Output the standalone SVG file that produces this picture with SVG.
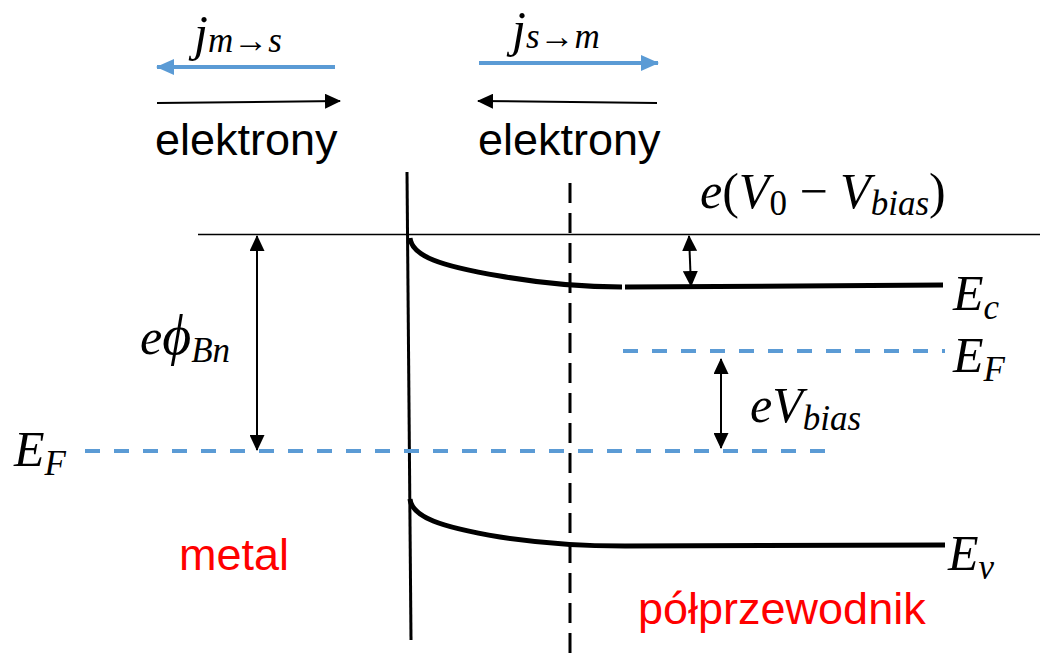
<svg xmlns="http://www.w3.org/2000/svg" width="1048" height="657" viewBox="0 0 1048 657">
<style>
.sans{font-family:"Liberation Sans",Arial,sans-serif;font-size:45px;fill:#000}
.red{fill:#FF0000}
.math{font-family:"Liberation Serif","Times New Roman",serif;font-size:50px;font-style:italic;fill:#000}
.up{font-style:normal}
.sub{font-size:35px}
.blue{stroke:#5B9BD5;stroke-width:4;fill:none}
.bdash{stroke:#5B9BD5;stroke-width:4;stroke-dasharray:15 14;fill:none}
.thin{stroke:#000;stroke-width:1.3;fill:none}
.band{stroke:#000;stroke-width:5;fill:none}
.arr{stroke:#000;stroke-width:2;fill:none}
</style>
<defs>
<marker id="ah" markerUnits="userSpaceOnUse" markerWidth="16" markerHeight="15" refX="15" refY="7.5" orient="auto-start-reverse" viewBox="0 0 16 15">
<path d="M0,0 L16,7.5 L0,15 Z" fill="#000"/>
</marker>
<marker id="bh" markerUnits="userSpaceOnUse" markerWidth="18" markerHeight="16" refX="17" refY="8" orient="auto-start-reverse" viewBox="0 0 18 16">
<path d="M0,0 L18,8 L0,16 Z" fill="#5B9BD5"/>
</marker>
</defs>

<g id="connectors">
<line class="blue" x1="335" y1="67" x2="157" y2="67" marker-end="url(#bh)"/>
<line class="arr" x1="157" y1="103" x2="340" y2="101" marker-end="url(#ah)"/>
<line class="blue" x1="479" y1="63" x2="658" y2="63" marker-end="url(#bh)"/>
<line class="arr" x1="657" y1="103" x2="478" y2="101" marker-end="url(#ah)"/>
<line class="arr" x1="257" y1="236" x2="257" y2="450" marker-start="url(#ah)" marker-end="url(#ah)"/>
<line class="arr" x1="689" y1="236" x2="691" y2="286" marker-start="url(#ah)" marker-end="url(#ah)"/>
<line class="arr" x1="721" y1="359" x2="721" y2="448" marker-start="url(#ah)" marker-end="url(#ah)"/>
</g>

<g id="interface">
<line x1="407" y1="172" x2="411" y2="640" stroke="#000" stroke-width="3"/>
</g>
<g id="depletion-edge">
<line x1="570" y1="183" x2="570" y2="657" stroke="#000" stroke-width="3" stroke-dasharray="20 10"/>
</g>
<g id="vacuum-level">
<line class="thin" x1="198" y1="234.5" x2="1040" y2="234.5"/>
</g>
<g id="conduction-band">
<path class="band" d="M410,238 C412,256 440,266 500,276 C540,283 580,287 622,287"/>
<line class="band" x1="625" y1="287" x2="943" y2="285"/>
</g>
<g id="valence-band">
<path class="band" d="M410,499 C412,517 440,527 500,537 C540,543 580,546 625,546"/>
<line class="band" x1="625" y1="546" x2="945" y2="545"/>
</g>
<g id="fermi-levels">
<line class="bdash" x1="623" y1="351" x2="945" y2="351"/>
<line class="bdash" x1="85" y1="451" x2="830" y2="451"/>
</g>

<g id="labels">
<text class="math" x="194" y="50">j<tspan class="sub" dy="2">m→s</tspan></text>
<text class="math" x="512" y="46">j<tspan class="sub" dy="2">s→m</tspan></text>
<text class="sans" x="155" y="155">elektrony</text>
<text class="sans" x="478" y="155">elektrony</text>
<text class="math" x="700" y="208">e<tspan class="up">(</tspan>V<tspan class="sub up" dy="7">0</tspan><tspan class="up" dy="-7"> − </tspan>V<tspan class="sub" dy="7">bias</tspan><tspan class="up" dy="-7">)</tspan></text>
<text class="math" x="140" y="354">e<tspan font-size="56px">ϕ</tspan><tspan class="sub" dy="8">Bn</tspan></text>
<text class="math" x="14" y="466">E<tspan class="sub" dy="9">F</tspan></text>
<text class="math" x="953" y="310">E<tspan class="sub" dy="9">c</tspan></text>
<text class="math" x="953" y="372">E<tspan class="sub" dy="9">F</tspan></text>
<text class="math" x="750" y="422">eV<tspan class="sub" dy="8">bias</tspan></text>
<text class="math" x="948" y="570">E<tspan class="sub" dy="9">v</tspan></text>
<text class="sans red" x="179" y="570">metal</text>
<text class="sans red" x="638" y="624">półprzewodnik</text>
</g>
</svg>
